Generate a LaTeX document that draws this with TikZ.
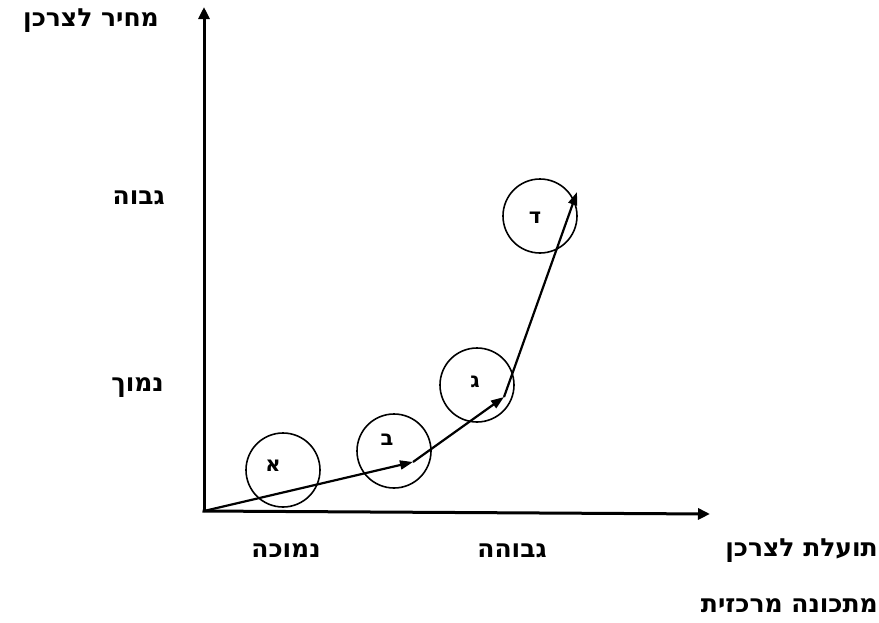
\documentclass[tikz,border=0pt]{standalone}
\usepackage{fontspec}
\setmainfont{DejaVu Sans}
\newfontfamily\hebfont[Script=Hebrew]{DejaVu Sans}
\TeXXeTstate=1
\usetikzlibrary{arrows.meta}
\newcommand{\heb}[1]{{\hebfont\bfseries\beginR #1\endR}}
\begin{document}
\begin{tikzpicture}[x=1pt,y=-1pt,
  axis/.style={line width=3pt,-{Triangle[length=12pt,width=11pt]}},
  seg/.style={line width=2.2pt,-{Triangle[length=13pt,width=9pt]}},
  ring/.style={circle,draw,line width=1.6pt,minimum size=74pt,inner sep=0pt},
  letter/.style={inner sep=0pt,font=\fontsize{21}{21}\selectfont},
  lbl/.style={font=\fontsize{25}{25}\selectfont,inner sep=0pt}]
\useasboundingbox (0,0) rectangle (879,622);
\coordinate (O) at (204,511);
\coordinate (ytop) at (204,7);
\coordinate (xend) at (710,514);
\draw[axis] (O) -- (ytop);
\draw[axis] ([xshift=-1.5pt]O) -- (xend);
\node[ring] (a) at (283,470) {};
\node[ring] (b) at (394,451) {};
\node[ring] (c) at (477,385) {};
\node[ring] (d) at (540,216) {};
\node[letter] (la) at (273,466) {\heb{א}};
\node[letter] (lb) at (387,440) {\heb{ב}};
\node[letter] (lc) at (475,382) {\heb{ג}};
\node[letter] (ld) at (535,218) {\heb{ד}};
\coordinate (p1) at (413,462);
\coordinate (p2) at (504,397);
\coordinate (p3) at (577,192);
\draw[seg] (O) -- (p1);
\draw[seg] (p1) -- (p2);
\draw[seg] (p2) -- (p3);
\node[lbl,anchor=east] (ylab) at (159,21) {\heb{מחיר לצרכן}};
\node[lbl,anchor=east] (hi) at (165,198) {\heb{גבוה}};
\node[lbl,anchor=east] (lo) at (164,388) {\heb{נמוך}};
\node[lbl] (xlo) at (286,551) {\heb{נמוכה}};
\node[lbl] (xhi) at (512,551) {\heb{גבוהה}};
\node[lbl,anchor=east] (xlab) at (878,551) {\heb{תועלת לצרכן}};
\node[lbl,anchor=east] (foot) at (878,606) {\heb{מתכונה מרכזית}};
\end{tikzpicture}
\end{document}
